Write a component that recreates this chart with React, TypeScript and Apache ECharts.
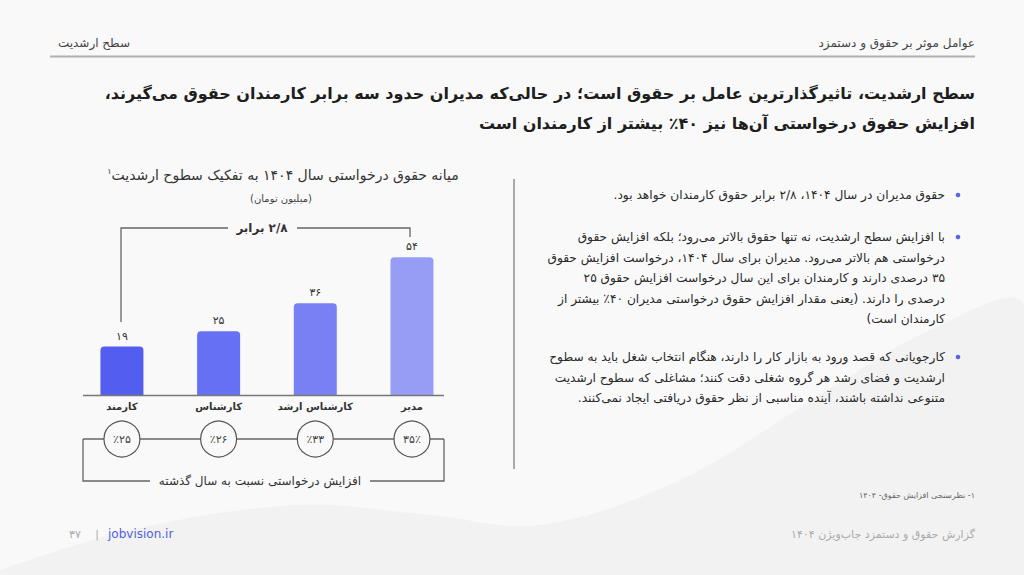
import React, { useEffect, useRef } from "react";
import * as echarts from "echarts";

const categories = ["کارمند", "کارشناس", "کارشناس ارشد", "مدیر"];
const salaries = [19, 25, 36, 54];
const growth = [25, 26, 33, 35];
const barColors = ["#535ef0", "#6670f2", "#7980f3", "#979df5"];

const headerRight = "عوامل موثر بر حقوق و دستمزد";
const headerLeft = "سطح ارشدیت";
const titleLines = [
  "سطح ارشدیت، تاثیرگذارترین عامل بر حقوق است؛ در حالی‌که مدیران حدود سه برابر کارمندان حقوق می‌گیرند،",
  "افزایش حقوق درخواستی آن‌ها نیز ۴۰٪ بیشتر از کارمندان است",
];
const chartTitle = "میانه حقوق درخواستی سال ۱۴۰۴ به تفکیک سطوح ارشدیت";
const chartUnit = "(میلیون تومان)";
const ratioLabel = "۲/۸ برابر";
const growthCaption = "افزایش درخواستی نسبت به سال گذشته";
const bullets = [
  ["حقوق مدیران در سال ۱۴۰۴، ۲/۸ برابر حقوق کارمندان خواهد بود."],
  [
    "با افزایش سطح ارشدیت، نه تنها حقوق بالاتر می‌رود؛ بلکه افزایش حقوق",
    "درخواستی هم بالاتر می‌رود. مدیران برای سال ۱۴۰۴، درخواست افزایش حقوق",
    "۳۵ درصدی دارند و کارمندان برای این سال درخواست افزایش حقوق ۲۵",
    "درصدی را دارند. (یعنی مقدار افزایش حقوق درخواستی مدیران ۴۰٪ بیشتر از",
    "کارمندان است)",
  ],
  [
    "کارجویانی که قصد ورود به بازار کار را دارند، هنگام انتخاب شغل باید به سطوح",
    "ارشدیت و فضای رشد هر گروه شغلی دقت کنند؛ مشاغلی که سطوح ارشدیت",
    "متنوعی نداشته باشند، آینده مناسبی از نظر حقوق دریافتی ایجاد نمی‌کنند.",
  ],
];
const bulletTops = [195, 237, 357];
const footnote = "۱- نظرسنجی افزایش حقوق- ۱۴۰۴";
const footerRight = "گزارش حقوق و دستمزد جاب‌ویژن ۱۴۰۴";
const pageNumber = "۳۷";
const site = "jobvision.ir";

const FONT = '"DejaVu Sans", sans-serif';
const fa = (n: number | string) =>
  String(n).replace(/\d/g, (d) => "۰۱۲۳۴۵۶۷۸۹"[Number(d)]);
const rtl = (s: string) => "\u200F" + s + "\u200F";

function txt(
  text: string,
  x: number,
  y: number,
  size: number,
  opts: any = {}
) {
  return {
    type: "text",
    x,
    y,
    z: opts.z ?? 5,
    style: {
      text,
      fill: opts.fill ?? "#333",
      fontSize: size,
      fontFamily: FONT,
      fontWeight: opts.weight ?? "normal",
      textAlign: opts.align ?? "right",
      textVerticalAlign: "middle",
      rich: opts.rich,
    },
  };
}

function line(points: number[][], stroke = "#666", lineWidth = 1.3, z = 1) {
  return {
    type: "polyline",
    z,
    shape: { points },
    style: { stroke, lineWidth, fill: null },
  };
}

export default function App() {
  const ref = useRef<HTMLDivElement>(null);
  useEffect(() => {
    if (!ref.current) return;
    const chart = echarts.init(ref.current, null, { renderer: "svg" });

    const graphics: any[] = [];
    // background wave
    graphics.push({
      type: "polygon",
      z: 0,
      shape: {
        points: [
          [0, 575],
          [0, 570],
          [140, 528],
          [300, 505],
          [430, 515],
          [540, 525],
          [680, 480],
          [820, 395],
          [930, 330],
          [1024, 305],
          [1024, 575],
        ],
        smooth: 0.35,
      },
      style: { fill: "#f2f2f2" },
    });
    // header
    graphics.push(txt(rtl(headerRight), 975, 43, 12, { fill: "#444" }));
    graphics.push(txt(rtl(headerLeft), 130, 43, 12, { fill: "#444" }));
    graphics.push(line([[50, 56.5], [975, 56.5]], "#b0b0b0", 2));
    // title
    titleLines.forEach((t, i) =>
      graphics.push(
        txt(rtl(t), 975, 93 + i * 30, 16, { weight: "bold", fill: "#1e1e1e" })
      )
    );
    // chart title
    graphics.push(
      txt(`{s|${fa(1)}}{t|${rtl(chartTitle)}}`, 283, 175, 14, {
        align: "center",
        fill: "#333",
        rich: {
          t: { fontSize: 14, fontFamily: FONT, fill: "#333", color: "#333" },
          s: {
            fontSize: 8,
            fontFamily: FONT,
            color: "#333",
            verticalAlign: "top",
            padding: [0, 0, 8, 0],
          },
        },
      })
    );
    graphics.push(txt(rtl(chartUnit), 281, 198, 10, { align: "center", fill: "#444" }));
    // ratio bracket
    graphics.push(line([[121, 322], [121, 228], [228, 228]], "#666", 1.3));
    graphics.push(line([[297, 228], [410, 228], [410, 237]], "#666", 1.3));
    graphics.push(
      txt(rtl(ratioLabel), 262, 228, 12, { align: "center", weight: "bold", fill: "#333" })
    );
    // baseline
    graphics.push(line([[83, 395.5], [444, 395.5]], "#777", 1.5, 3));
    // growth connectors
    graphics.push(line([[83, 439], [444, 439]], "#666", 1.3, 1));
    graphics.push(line([[150, 481], [83, 481], [83, 439]], "#666", 1.3, 1));
    graphics.push(line([[370, 481], [444, 481], [444, 439]], "#666", 1.3, 1));
    graphics.push(txt(rtl(growthCaption), 260, 481, 12, { align: "center", fill: "#333" }));
    // divider
    graphics.push(line([[514, 179], [514, 469]], "#aaaaaa", 2));
    // bullets
    bullets.forEach((lines, bi) => {
      const top = bulletTops[bi];
      graphics.push({
        type: "circle",
        z: 5,
        shape: { cx: 958, cy: top, r: 2.3 },
        style: { fill: "#5b63e8" },
      });
      lines.forEach((l, li) =>
        graphics.push(txt(rtl(l), 945, top + li * 20.5, 12.2, { fill: "#2a2a2a" }))
      );
    });
    // footnote & footer
    graphics.push(txt(rtl(footnote), 975, 495, 8, { fill: "#666" }));
    graphics.push(txt(rtl(footerRight), 975, 534, 11, { fill: "#aaa" }));
    graphics.push(txt(pageNumber, 75, 534, 11, { align: "center", fill: "#aaa" }));
    graphics.push(txt("|", 97, 534, 11, { align: "center", fill: "#aaa" }));
    graphics.push(txt(site, 108, 534, 12, { align: "left", fill: "#5060e0" }));

    const option: any = {
      animation: false,
      backgroundColor: "#f9f9f9",
      grid: [
        { left: 73.6, width: 386.7, top: 242, height: 153 },
        { left: 73.6, width: 386.7, top: 420, height: 38 },
      ],
      xAxis: [
        {
          type: "category",
          gridIndex: 0,
          data: categories,
          axisLine: { show: false },
          axisTick: { show: false },
          axisLabel: {
            interval: 0,
            margin: 6,
            fontFamily: FONT,
            fontSize: 10,
            fontWeight: "bold",
            color: "#333",
            formatter: (v: string) => rtl(v),
          },
        },
        { type: "category", gridIndex: 1, data: categories, show: false },
      ],
      yAxis: [
        { type: "value", gridIndex: 0, min: 0, max: 60, show: false },
        { type: "value", gridIndex: 1, min: 0, max: 1, show: false },
      ],
      series: [
        {
          type: "bar",
          xAxisIndex: 0,
          yAxisIndex: 0,
          barWidth: 43,
          data: salaries.map((v, i) => ({
            value: v,
            itemStyle: { color: barColors[i] },
          })),
          itemStyle: { borderRadius: [4, 4, 0, 0] },
          label: {
            show: true,
            position: "top",
            distance: 5,
            fontFamily: FONT,
            fontSize: 11,
            color: "#333",
            formatter: (p: any) => fa(p.value),
          },
        },
        {
          type: "scatter",
          xAxisIndex: 1,
          yAxisIndex: 1,
          z: 10,
          symbol: "circle",
          symbolSize: 36,
          data: growth.map((g, i) => [i, 0.5]),
          itemStyle: { color: "#f9f9f9", borderColor: "#555", borderWidth: 1.2, opacity: 1 },
          label: {
            show: true,
            position: "inside",
            fontFamily: FONT,
            fontSize: 11,
            color: "#444",
            formatter: (p: any) =>
              p.dataIndex === growth.length - 1
                ? fa(growth[p.dataIndex]) + "٪"
                : "٪" + fa(growth[p.dataIndex]),
          },
        },
      ],
      graphic: { elements: graphics },
    };
    chart.setOption(option);
    return () => chart.dispose();
  }, []);
  return (
    <div
      ref={ref}
      style={{ position: "fixed", left: 0, top: 0, width: 1024, height: 575 }}
    />
  );
}
